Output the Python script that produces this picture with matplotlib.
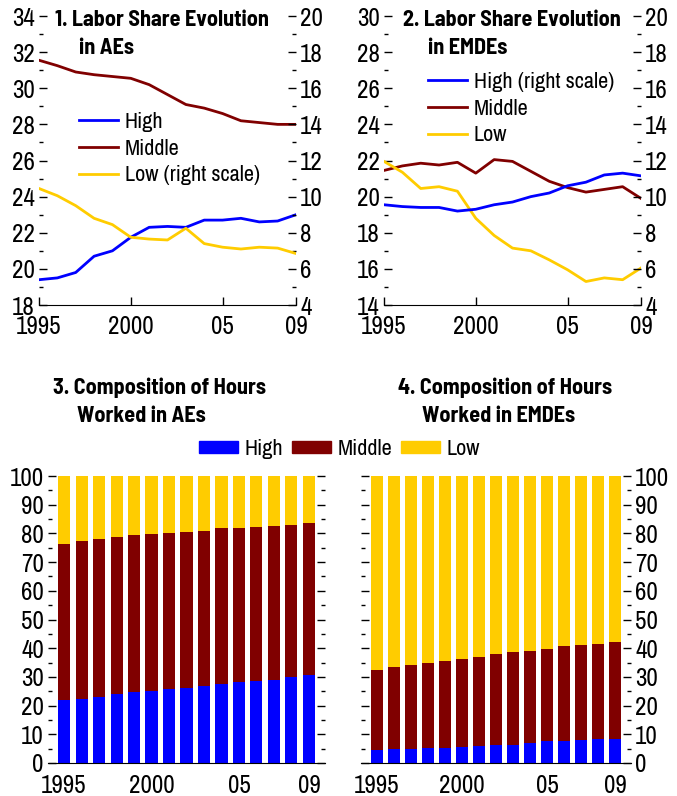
import matplotlib
matplotlib.use("Agg")
import matplotlib.pyplot as plt
from matplotlib.patches import Patch
from matplotlib.lines import Line2D
from matplotlib.ticker import MultipleLocator

plt.rcParams['font.family'] = ['Archivo Narrow', 'Liberation Sans Narrow', 'DejaVu Sans']
TITLE_FONT = ['Barlow Semi Condensed', 'Asap Condensed', 'DejaVu Sans']

BLUE = "#0000FF"
RED = "#800000"
YELLOW = "#FFCC00"

years = list(range(1995, 2010))
year_ticks = [1995, 2000, 2005, 2009]
year_labels = ["1995", "2000", "05", "09"]

# Panel 1: labor share, AEs (high/middle left scale, low right scale)
ae_high = [19.4, 19.5, 19.8, 20.7, 21.0, 21.75, 22.3, 22.35, 22.3, 22.7, 22.7, 22.8, 22.6, 22.65, 23.0]
ae_middle = [31.55, 31.25, 30.9, 30.75, 30.65, 30.55, 30.2, 29.65, 29.1, 28.9, 28.6, 28.2, 28.1, 28.0, 28.0]
ae_low = [10.45, 10.05, 9.5, 8.8, 8.45, 7.75, 7.65, 7.6, 8.25, 7.4, 7.2, 7.1, 7.2, 7.15, 6.85]

# Panel 2: labor share, EMDEs (middle/low left scale, high right scale)
em_high = [9.55, 9.45, 9.4, 9.4, 9.2, 9.3, 9.55, 9.7, 10.0, 10.2, 10.6, 10.8, 11.2, 11.3, 11.15]
em_middle = [21.45, 21.7, 21.85, 21.75, 21.9, 21.3, 22.05, 21.95, 21.4, 20.85, 20.5, 20.25, 20.4, 20.55, 19.9]
em_low = [21.95, 21.35, 20.45, 20.55, 20.3, 18.8, 17.85, 17.15, 17.0, 16.5, 15.95, 15.3, 15.5, 15.4, 16.05]

# Panels 3-4: composition of hours worked (cumulative tops)
ae_hours_high = [22.0, 22.4, 23.0, 23.9, 24.6, 25.2, 25.9, 26.3, 27.0, 27.7, 28.1, 28.4, 29.0, 29.8, 30.6]
ae_hours_cum = [76.3, 77.4, 78.1, 78.8, 79.5, 79.8, 80.1, 80.5, 80.9, 81.9, 82.0, 82.3, 82.6, 82.9, 83.5]
em_hours_high = [4.4, 4.8, 4.9, 5.1, 5.1, 5.5, 5.8, 6.1, 6.4, 6.8, 7.5, 7.8, 7.9, 8.2, 8.2]
em_hours_cum = [32.4, 33.4, 34.2, 34.9, 35.6, 36.4, 37.0, 38.1, 38.7, 39.1, 39.8, 40.8, 41.2, 41.5, 42.2]

W, H = 677, 796
fig = plt.figure(figsize=(W / 100, H / 100), dpi=100)
TICK_FS = 18
LEG_FS = 16


def box(left, right, top, bottom):
    return [left / W, 1 - bottom / H, (right - left) / W, (bottom - top) / H]


def style_axis(ax, major, minor, length):
    ax.yaxis.set_major_locator(MultipleLocator(major))
    ax.yaxis.set_minor_locator(MultipleLocator(minor))
    ax.tick_params(axis="y", which="major", direction="in", length=length, width=1,
                   labelsize=TICK_FS, pad=3)
    ax.tick_params(axis="y", which="minor", direction="in", length=length / 2, width=1)
    for s in ["left", "right", "top"]:
        ax.spines[s].set_visible(False)


def line_panel(pos, left_lim, right_lim):
    ax = fig.add_axes(box(*pos))
    ax2 = ax.twinx()
    ax.set_xlim(1995, 2009)
    ax.set_ylim(*left_lim)
    ax2.set_ylim(*right_lim)
    style_axis(ax, 2, 1, 6)
    style_axis(ax2, 2, 1, 6)
    ax2.spines["bottom"].set_visible(False)
    ax.set_xticks(year_ticks)
    ax.set_xticklabels(year_labels)
    ax.tick_params(axis="x", direction="in", length=6, width=1, labelsize=TICK_FS, pad=7)
    return ax, ax2


leg_kw = dict(loc="upper left", frameon=False, fontsize=LEG_FS, borderpad=0,
              borderaxespad=0, handlelength=1.75, handletextpad=0.3, labelspacing=0.3)

# ---- Panel 1
ax1, ax1r = line_panel((39, 296, 16, 305), (18, 34), (4, 20))
ax1.plot(years, ae_middle, color=RED, lw=2)
ax1.plot(years, ae_high, color=BLUE, lw=2)
ax1r.plot(years, ae_low, color=YELLOW, lw=2)
h1 = [Line2D([], [], color=BLUE, lw=2), Line2D([], [], color=RED, lw=2),
      Line2D([], [], color=YELLOW, lw=2)]
fig.legend(h1, ["High", "Middle", "Low (right scale)"],
           bbox_to_anchor=(79 / W, 1 - 112 / H), **leg_kw)

# ---- Panel 2
ax2, ax2r = line_panel((384, 641, 16, 305), (14, 30), (4, 20))
ax2.plot(years, em_middle, color=RED, lw=2)
ax2.plot(years, em_low, color=YELLOW, lw=2)
ax2r.plot(years, em_high, color=BLUE, lw=2)
fig.legend(h1, ["High (right scale)", "Middle", "Low"],
           bbox_to_anchor=(428 / W, 1 - 72 / H), **leg_kw)


# ---- Panels 3 and 4
def bar_panel(pos, high, cum, labels_right):
    ax = fig.add_axes(box(*pos))
    axr = ax.twinx()
    x = range(len(high))
    mid = [c - h for c, h in zip(cum, high)]
    low = [100 - c for c in cum]
    ax.bar(x, high, width=0.69, color=BLUE)
    ax.bar(x, mid, width=0.69, bottom=high, color=RED)
    ax.bar(x, low, width=0.69, bottom=cum, color=YELLOW)
    ax.set_xlim(-0.92, 14.92)
    ax.set_ylim(0, 100)
    axr.set_ylim(0, 100)
    style_axis(ax, 10, 5, 6)
    style_axis(axr, 10, 5, 6)
    axr.spines["bottom"].set_visible(False)
    ax.set_xticks([0, 5, 10, 14])
    ax.set_xticklabels(year_labels)
    ax.tick_params(axis="x", length=0, labelsize=TICK_FS, pad=8)
    if labels_right:
        ax.tick_params(axis="y", labelleft=False)
    else:
        axr.tick_params(axis="y", labelright=False)
    return ax


bar_panel((48, 325, 476, 763), ae_hours_high, ae_hours_cum, False)
bar_panel((361, 631, 476, 763), em_hours_high, em_hours_cum, True)

h3 = [Patch(color=BLUE), Patch(color=RED), Patch(color=YELLOW)]
fig.legend(h3, ["High", "Middle", "Low"], ncol=3,
           bbox_to_anchor=(199 / W, 1 - 439 / H), loc="upper left", frameon=False,
           fontsize=LEG_FS, borderpad=0, borderaxespad=0, handlelength=1.75,
           handleheight=0.45, handletextpad=0.3, columnspacing=0.4)

# ---- Titles
tkw = dict(fontsize=16, fontweight="bold", va="center", ha="left", family=TITLE_FONT)
fig.text(55 / W, 1 - 20 / H, "1. Labor Share Evolution", **tkw)
fig.text(79 / W, 1 - 48 / H, "in AEs", **tkw)
fig.text(403 / W, 1 - 20 / H, "2. Labor Share Evolution", **tkw)
fig.text(428 / W, 1 - 48 / H, "in EMDEs", **tkw)
fig.text(53 / W, 1 - 388 / H, "3. Composition of Hours", **tkw)
fig.text(77 / W, 1 - 416 / H, "Worked in AEs", **tkw)
fig.text(398 / W, 1 - 388 / H, "4. Composition of Hours", **tkw)
fig.text(422 / W, 1 - 416 / H, "Worked in EMDEs", **tkw)

fig.savefig("out.png", dpi=100)
